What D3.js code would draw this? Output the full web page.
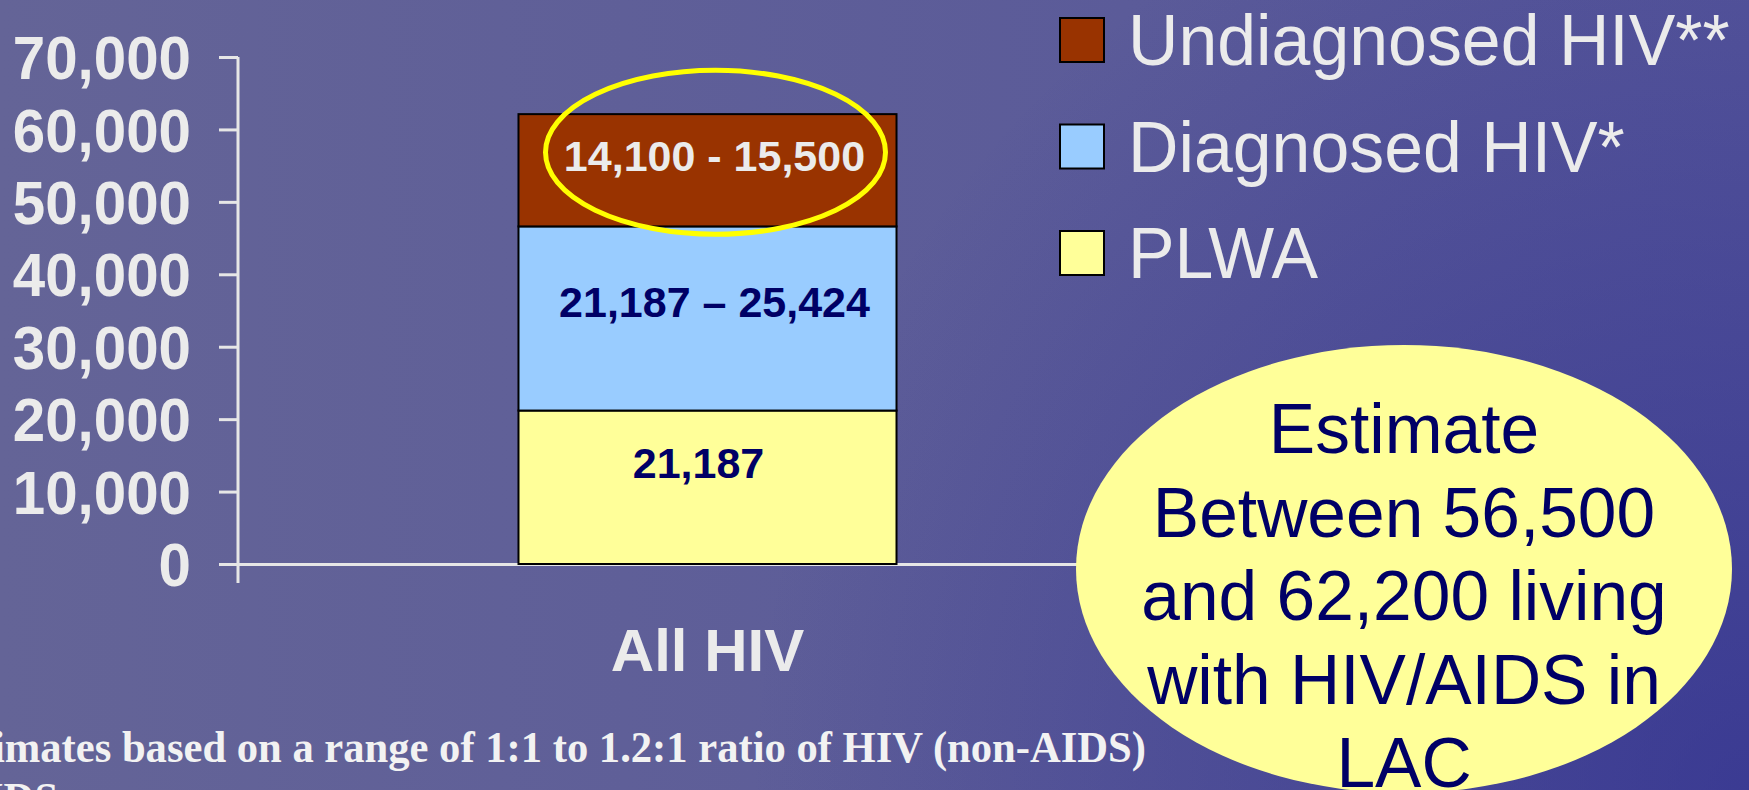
<!DOCTYPE html>
<html>
<head>
<meta charset="utf-8">
<script src="https://cdn.jsdelivr.net/npm/d3@7"></script>
<style>
  html, body { margin: 0; padding: 0; overflow: hidden; }
  svg { display: block; font-family: "Liberation Sans", Arial, sans-serif; }
</style>
</head>
<body>
<svg id="chart" width="1749" height="790"></svg>
<script>
// datos del grafico
const categories = ["All HIV"];
const seriesNames = ["PLWA", "Diagnosed HIV*", "Undiagnosed HIV**"];
const seriesValues = [21187, 25424, 15500];
const seriesLabels = ["21,187", "21,187 \u2013 25,424", "14,100 - 15,500"];
const yTicks = [0, 10000, 20000, 30000, 40000, 50000, 60000, 70000];
const legendOrder = ["Undiagnosed HIV**", "Diagnosed HIV*", "PLWA"];
const calloutLines = ["Estimate", "Between 56,500", "and 62,200 living", "with HIV/AIDS in", "LAC"];
const footnoteLines = ["*Estimates based on a range of 1:1 to 1.2:1 ratio of HIV (non-AIDS)", "to AIDS"];

const colors = {"PLWA": "#ffff99", "Diagnosed HIV*": "#99ccff", "Undiagnosed HIV**": "#993300"};
const labelColors = {"PLWA": "#000066", "Diagnosed HIV*": "#000066", "Undiagnosed HIV**": "#ebebeb"};
const axisColor = "#e6e6e6";
const textColor = "#ebebeb";

const svg = d3.select("#chart");

// fondo: degradado horizontal + sombra en la esquina inferior derecha
const defs = svg.append("defs");
const grad = defs.append("linearGradient")
  .attr("id", "bg")
  .attr("x1", 0).attr("y1", 0).attr("x2", 1).attr("y2", 0);
grad.append("stop").attr("offset", "0%").attr("stop-color", "#646497");
grad.append("stop").attr("offset", "100%").attr("stop-color", "#56569a");
const shade = defs.append("radialGradient")
  .attr("id", "shade")
  .attr("gradientUnits", "userSpaceOnUse")
  .attr("cx", 1749).attr("cy", 790).attr("r", 1000);
shade.append("stop").attr("offset", "0%").attr("stop-color", "#2a2a8e").attr("stop-opacity", 0.62);
shade.append("stop").attr("offset", "100%").attr("stop-color", "#2a2a8e").attr("stop-opacity", 0);
svg.append("rect").attr("width", 1749).attr("height", 790).attr("fill", "url(#bg)");
svg.append("rect").attr("width", 1749).attr("height", 790).attr("fill", "url(#shade)");

// escalas
const y = d3.scaleLinear().domain([0, 70000]).range([564, 57]);
const x = d3.scaleBand().domain(categories).range([238, 1177]).paddingInner(0).paddingOuter(0.742);

// apilado
const row = {category: categories[0]};
seriesNames.forEach((s, i) => row[s] = seriesValues[i]);
const stack = d3.stack().keys(seriesNames)([row]);

// eje Y
const yAxis = svg.append("g")
  .attr("transform", "translate(238,0)")
  .call(d3.axisLeft(y).tickValues(yTicks).tickSize(19).tickPadding(28).tickFormat(d3.format(",")));
yAxis.select(".domain").attr("stroke", axisColor).attr("stroke-width", 3)
  .attr("d", `M0,${y(70000)}V${y(0) + 19}`);
yAxis.selectAll(".tick line").attr("stroke", axisColor).attr("stroke-width", 3);
yAxis.selectAll(".tick text")
  .attr("fill", textColor)
  .attr("font-size", 62)
  .attr("font-weight", "bold")
  .attr("font-family", "'Liberation Sans', Arial, sans-serif")
  .attr("x", 0)
  .attr("transform", "translate(-47,0) scale(0.94,1)")
  .attr("dy", "0.35em");

// eje X
const xAxis = svg.append("g")
  .attr("transform", `translate(0,${y(0)})`)
  .call(d3.axisBottom(x).tickSize(0).tickPadding(64));
xAxis.select(".domain").attr("stroke", axisColor).attr("stroke-width", 3);
xAxis.selectAll(".tick text")
  .attr("fill", textColor)
  .attr("font-size", 60)
  .attr("font-weight", "bold")
  .attr("font-family", "'Liberation Sans', Arial, sans-serif");

// barras apiladas
const layers = svg.append("g").selectAll("g")
  .data(stack)
  .join("g")
  .attr("fill", d => colors[d.key]);

layers.selectAll("rect")
  .data(d => d)
  .join("rect")
  .attr("x", d => x(d.data.category))
  .attr("y", d => y(d[1]))
  .attr("width", x.bandwidth())
  .attr("height", d => y(d[0]) - y(d[1]))
  .attr("stroke", "#000")
  .attr("stroke-width", 2);

// etiquetas de las barras
const labelShift = [{dx: -9, dy: -9}, {dx: 7, dy: -1}, {dx: 7, dy: 1}];
stack.forEach((layer, i) => {
  const d = layer[0];
  svg.append("text")
    .attr("x", x(d.data.category) + x.bandwidth() / 2 + labelShift[i].dx)
    .attr("y", (y(d[0]) + y(d[1])) / 2 + labelShift[i].dy)
    .attr("text-anchor", "middle")
    .attr("font-size", 43)
    .attr("font-weight", "bold")
    .attr("fill", labelColors[layer.key])
    .text(seriesLabels[i]);
});

// elipse amarilla sobre el segmento superior
const topSeg = stack[2][0];
svg.append("ellipse")
  .attr("cx", x(topSeg.data.category) + x.bandwidth() / 2 + 8)
  .attr("cy", (y(topSeg[0]) + y(topSeg[1])) / 2 - 18)
  .attr("rx", 170)
  .attr("ry", 82)
  .attr("fill", "none")
  .attr("stroke", "#ffff00")
  .attr("stroke-width", 5);

// leyenda
const legend = svg.append("g").attr("transform", "translate(1060,18)");
legendOrder.forEach((name, i) => {
  const g = legend.append("g").attr("transform", `translate(0,${i * 106.5})`);
  g.append("rect")
    .attr("width", 44).attr("height", 44)
    .attr("fill", colors[name])
    .attr("stroke", "#000").attr("stroke-width", 2);
  g.append("text")
    .attr("transform", "translate(68,47) scale(0.97,1)")
    .attr("font-size", 72)
    .attr("fill", textColor)
    .text(name);
});

// nota al pie
const footScale = 0.947;
const foot = svg.append("g").attr("font-family", "'Liberation Serif', 'Times New Roman', serif")
  .attr("font-weight", "bold").attr("font-size", 45).attr("fill", "#f2f2f2");
const f1 = foot.append("text")
  .attr("transform", `translate(1146,762) scale(${footScale},1)`)
  .attr("text-anchor", "end")
  .text(footnoteLines[0]);
const fx = 1146 - f1.node().getComputedTextLength() * footScale;
foot.append("text")
  .attr("transform", `translate(${fx},813) scale(${footScale},1)`)
  .text(footnoteLines[1]);

// globo de estimacion
svg.append("ellipse")
  .attr("cx", 1404).attr("cy", 569)
  .attr("rx", 328).attr("ry", 224)
  .attr("fill", "#ffff99");
const call = svg.append("g").attr("font-size", 69.5).attr("fill", "#000066").attr("text-anchor", "middle");
calloutLines.forEach((t, i) => {
  call.append("text").attr("x", 1404).attr("y", 453 + i * 83.5).text(t);
});
</script>
</body>
</html>
